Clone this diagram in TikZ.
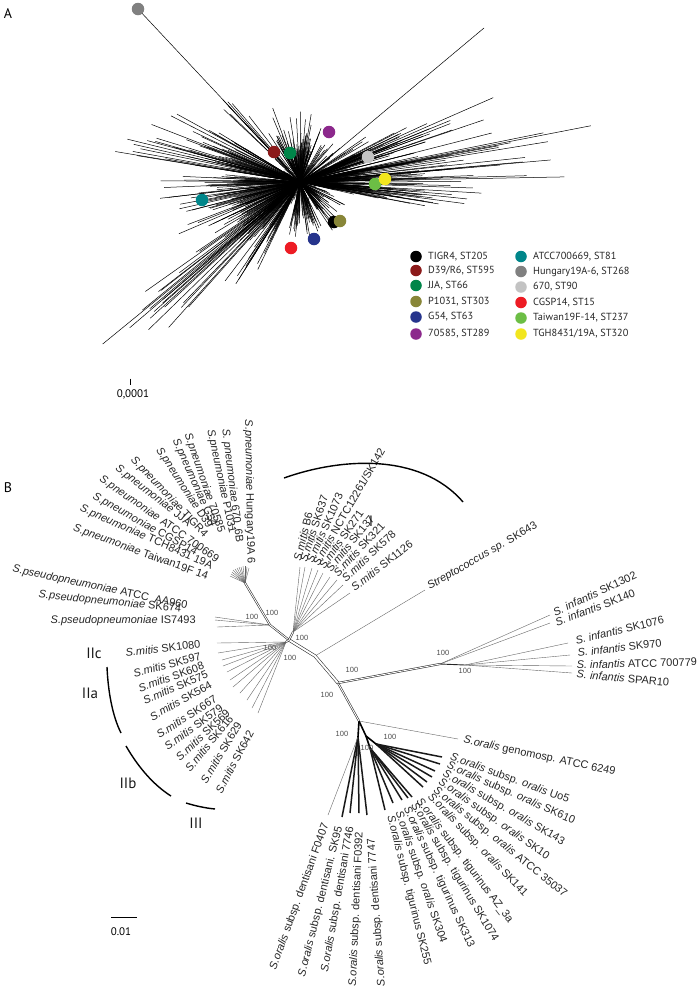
\documentclass[tikz,border=0pt]{standalone}
\usepackage{fontspec}
\setmainfont{Liberation Sans}
\newfontfamily\ptsans{PT Sans}
\usetikzlibrary{calc}
\definecolor{cTIGR}{RGB}{0,0,0}
\definecolor{cDtn}{RGB}{139,26,26}
\definecolor{cJJA}{RGB}{0,133,73}
\definecolor{cPone}{RGB}{136,134,56}
\definecolor{cGfs}{RGB}{38,52,140}
\definecolor{cSvn}{RGB}{140,40,140}
\definecolor{cATCC}{RGB}{0,134,138}
\definecolor{cHun}{RGB}{128,128,128}
\definecolor{cSix}{RGB}{195,195,195}
\definecolor{cCGSP}{RGB}{237,28,36}
\definecolor{cTai}{RGB}{108,190,69}
\definecolor{cTGH}{RGB}{242,230,30}
\newcommand{\afan}[6]{%
  \foreach \k in {1,...,#3}{%
    \pgfmathsetmacro{\fanA}{#1+#2*(rnd-0.5)}%
    \pgfmathsetmacro{\fanR}{#6*rnd}%
    \pgfmathsetmacro{\fanL}{#4+(#5-#4)*rnd*rnd}%
    \pgfmathsetmacro{\fanB}{\fanA+4*(rnd-0.5)}%
    \draw[aline] (CA) ++(\fanA:\fanR) -- ++(\fanB:\fanL);%
  }}
\begin{document}
\begin{tikzpicture}[x=1pt,y=1pt,
  aline/.style={line width=0.5pt, black},
  lab/.style={font=\fontsize{11}{12}\selectfont, text=black!85, inner sep=0.5pt},
  boot/.style={font=\fontsize{7.5}{8}\selectfont, text=black!70, inner sep=0pt},
  leg/.style={font=\ptsans\fontsize{10.3}{11}\selectfont, text=black!85, anchor=west, inner sep=0pt},
  clade/.style={font=\ptsans\fontsize{15}{16}\selectfont, text=black!90, inner sep=0pt},
  panel/.style={font=\ptsans\fontsize{14}{14}\selectfont, inner sep=0pt},
  thinl/.style={line width=0.4pt, black!60},
  thickl/.style={line width=1.5pt, black!90},
  bb/.style={draw=black!85, double=white, double distance=0.9pt, line width=0.55pt},
  bbw/.style={draw=black!85, double=white, double distance=2pt, line width=0.55pt},
  arcl/.style={line width=1.4pt, black},
  dot/.style={circle, inner sep=0pt, minimum size=12.5pt},
  ldot/.style={circle, inner sep=0pt, minimum size=11.5pt}
]
\useasboundingbox (0,0) rectangle (700,-994);
\fill[white] (0,0) rectangle (700,-994);

% ================= Panel A =================
\node[panel] (labA) at (8,-14) {A};
\coordinate (CA) at (300,-182);
\pgfmathsetseed{4321}
\afan{14}{26}{110}{40}{215}{20}
\afan{8}{14}{12}{170}{290}{30}
\afan{-7}{12}{50}{40}{200}{15}
\afan{-42}{30}{32}{25}{75}{8}
\afan{-85}{40}{45}{25}{70}{8}
\afan{-130}{30}{60}{40}{135}{15}
\afan{-138}{12}{18}{150}{245}{30}
\afan{-155}{20}{45}{50}{160}{15}
\afan{185}{20}{50}{50}{150}{15}
\afan{160}{22}{50}{60}{180}{15}
\afan{168}{8}{6}{150}{220}{20}
\afan{95}{55}{80}{25}{80}{5}
\afan{132}{8}{8}{80}{150}{20}
\afan{45}{30}{18}{30}{110}{10}
\afan{0}{360}{90}{15}{45}{0}
\coordinate (tipUR) at (484,-28);
\coordinate (tipHun) at (138,-9);
\draw[aline] (CA) -- (tipHun);
\draw[aline] (CA) -- (tipUR);
\draw[line width=0.6pt] (CA) .. controls (310,-186) and (312,-196) .. (306,-205);

\node[dot, fill=cHun] (dHun) at (tipHun) {};
\node[dot, fill=cDtn] (dDtn) at (274,-152) {};
\node[dot, fill=cJJA] (dJJA) at (290,-153) {};
\node[dot, fill=cSvn] (dSvn) at (329,-132) {};
\node[dot, fill=cSix] (dSix) at (368,-157) {};
\node[dot, fill=cTai] (dTai) at (375,-184) {};
\node[dot, fill=cTGH] (dTGH) at (385,-179) {};
\node[dot, fill=cATCC] (dATCC) at (202,-200) {};
\node[dot, fill=cTIGR] (dTIGR) at (334,-222) {};
\node[dot, fill=cPone] (dPone) at (340,-221) {};
\node[dot, fill=cGfs] (dGfs) at (314,-239) {};
\node[dot, fill=cCGSP] (dCGSP) at (291,-248) {};

% legend
\node[ldot, fill=cTIGR] (l1) at (416,-256.5) {};
\node[leg] (lt1) at (428,-256.5) {TIGR4, ST205};
\node[ldot, fill=cDtn] (l2) at (416,-270.5) {};
\node[leg] (lt2) at (428,-270.5) {D39/R6, ST595};
\node[ldot, fill=cJJA] (l3) at (416,-285.5) {};
\node[leg] (lt3) at (428,-285.5) {JJA, ST66};
\node[ldot, fill=cPone] (l4) at (416,-301.5) {};
\node[leg] (lt4) at (428,-301.5) {P1031, ST303};
\node[ldot, fill=cGfs] (l5) at (416,-317) {};
\node[leg] (lt5) at (428,-317) {G54, ST63};
\node[ldot, fill=cSvn] (l6) at (416,-334) {};
\node[leg] (lt6) at (428,-334) {70585, ST289};
\node[ldot, fill=cATCC] (r1) at (521,-256.5) {};
\node[leg] (rt1) at (533,-256.5) {ATCC700669, ST81};
\node[ldot, fill=cHun] (r2) at (521,-271.5) {};
\node[leg] (rt2) at (533,-271.5) {Hungary19A-6, ST268};
\node[ldot, fill=cSix] (r3) at (521,-287) {};
\node[leg] (rt3) at (533,-287) {670, ST90};
\node[ldot, fill=cCGSP] (r4) at (521,-302.5) {};
\node[leg] (rt4) at (533,-302.5) {CGSP14, ST15};
\node[ldot, fill=cTai] (r5) at (521,-318) {};
\node[leg] (rt5) at (533,-318) {Taiwan19F-14, ST237};
\node[ldot, fill=cTGH] (r6) at (521,-334) {};
\node[leg] (rt6) at (533,-334) {TGH8431/19A, ST320};

% scale A
\coordinate (sa1) at (130.5,-378.5);
\coordinate (sa2) at (130.5,-385);
\draw[line width=0.9pt] (sa1) -- (sa2);
\node[font=\ptsans\fontsize{11}{11}\selectfont, inner sep=0pt] (saT) at (133,-394.5) {0,0001};

% ================= Panel B =================
\node[panel] (labB) at (8,-488) {B};

\coordinate (pA) at (245,-583);
\coordinate (n1) at (270,-625);
\coordinate (n2) at (289,-640);
\coordinate (n3) at (315,-656);
\coordinate (n4) at (338,-683);
\coordinate (n5) at (359,-721);
\coordinate (mt) at (293,-632);
\coordinate (ml) at (286,-642);
\coordinate (ni) at (440,-664);
\coordinate (ni2) at (465,-665);
\coordinate (nd) at (358,-737);
\coordinate (no) at (366,-736);
\coordinate (noo) at (376,-744);
\coordinate (nt) at (370,-748);

% pneumoniae fan
\foreach \i/\x/\y in {1/249/568,2/247/567,3/245/566,4/243/566,5/241/567,6/239/567,7/237/568,8/235/569,9/233/570,10/232/572,11/231/574,12/230/576}{
  \coordinate (pt\i) at (\x,-\y);
  \draw[thinl] (pA) -- (pt\i);
}
% pseudopneumoniae
\foreach \i/\x/\y in {1/215/617,2/215/620,3/217/627}{
  \coordinate (ps\i) at (\x,-\y);
  \draw[thinl] (n1) -- (ps\i);
}
% mitis lower fan
\foreach \i/\x/\y in {1/217/643,2/218/653,3/222/660,4/223/666,5/227/672,6/230/680,7/233/687,8/240/693,9/247/700,10/252/708,11/258/713}{
  \coordinate (ml\i) at (\x,-\y);
  \draw[thinl] (ml) -- (ml\i);
}
% mitis upper fan
\foreach \i/\x/\y in {1/300/567,2/305/567,3/312/568,4/318/570,5/323/573,6/330/577,7/337/580,8/343/585,9/350/593}{
  \coordinate (mu\i) at (\x,-\y);
  \draw[thinl] (mt) -- (mu\i);
}
% SK643
\coordinate (sk643) at (425,-590);
\draw[thinl] (n3) -- (sk643);
% infantis
\foreach \i/\x/\y in {1/550/615,2/550/623}{
  \coordinate (if\i) at (\x,-\y);
  \draw[thinl] (ni) -- (if\i);
}
\foreach \i/\x/\y in {3/568/643,4/570/655,5/572/666,6/572/673}{
  \coordinate (if\i) at (\x,-\y);
  \draw[thinl] (ni2) -- (if\i);
}
\draw[line width=0.9pt, black!85] (ni) -- (ni2);
% oralis
\coordinate (gen) at (458,-739);
\draw[thinl] (n5) -- (gen);
\foreach \i/\x/\y in {1/342/817,2/350/813,3/359/813,4/367/815}{
  \coordinate (dn\i) at (\x,-\y);
  \draw[thickl] (nd) -- (dn\i);
}
\coordinate (dn0) at (328,-815);
\draw[thinl] (nd) -- (dn0);
\foreach \i/\x/\y in {1/442/757,2/440/764,3/435/771,4/432/777,5/427/782,6/423/787}{
  \coordinate (or\i) at (\x,-\y);
  \draw[thickl] (noo) -- (or\i);
}
\foreach \i/\x/\y in {1/412/797,2/408/798,3/402/800,4/393/803,5/385/810}{
  \coordinate (tg\i) at (\x,-\y);
  \draw[thickl] (nt) -- (tg\i);
}
\draw[line width=1.6pt] (n5) -- (nd);
\draw[line width=1.6pt] (n5) -- (no) -- (noo);
\draw[line width=1.6pt] (no) -- (nt);

% backbone
\draw[bb] (pA) -- (n1) -- (n2);
\draw[bbw] (n2) -- (n3) -- (n4);
\draw[bb] (n4) -- (n5);
\draw[bb] (n4) -- (ni);
\draw[bb] (n2) -- (mt);
\draw[bb] (n2) -- (ml);

% bootstrap values
\node[boot] (b1) at (252,-617) {100};
\node[boot] (b2) at (272,-613) {100};
\node[boot] (b3) at (302,-638) {100};
\node[boot] (b4) at (270,-648) {100};
\node[boot] (b5) at (290,-658) {100};
\node[boot] (b6) at (352,-670) {100};
\node[boot] (b7) at (327,-695) {100};
\node[boot] (b8) at (443,-653) {100};
\node[boot] (b9) at (465,-671) {100};
\node[boot] (b10) at (342,-734) {100};
\node[boot] (b11) at (390,-737) {100};
\node[boot] (b12) at (367,-748) {100};

% pneumoniae labels
\node[lab, rotate=-89, anchor=west] (pn1) at (248,-419) {\textit{S.pneumoniae} Hungary19A 6};
\node[lab, rotate=-83, anchor=west] (pn2) at (225,-428) {\textit{S. pneumoniae} 670\_6B};
\node[lab, rotate=-78, anchor=west] (pn3) at (210,-429) {\textit{S.pneumoniae} P1031};
\node[lab, rotate=-71, anchor=west] (pn4) at (187,-433) {\textit{S.pneumoniae} 70585};
\node[lab, rotate=-66, anchor=west] (pn5) at (175,-439) {\textit{S.pneumoniae} G54};
\node[lab, rotate=-57, anchor=west] (pn6) at (158,-448) {\textit{S.pneumoniae} D39};
\node[lab, rotate=-46.5, anchor=west] (pn7) at (132,-458) {\textit{S.pneumoniae} TIGR4};
\node[lab, rotate=-38, anchor=west] (pn8) at (116,-467) {\textit{S.pneumoniae} JJA};
\node[lab, rotate=-35, anchor=west] (pn9) at (100,-478) {\textit{S.pneumoniae} ATCC 700669};
\node[lab, rotate=-29, anchor=west] (pn10) at (93,-496) {\textit{S.pneumoniae} CGSP14};
\node[lab, rotate=-24, anchor=west] (pn11) at (80,-508) {\textit{S.pneumoniae} TCH8431 19A};
\node[lab, rotate=-20, anchor=west] (pn12) at (73,-528) {\textit{S.pneumoniae} Taiwan19F 14};

% pseudopneumoniae labels
\node[lab, rotate=-12, anchor=west] (psl1) at (12,-569) {\textit{S.pseudopneumoniae} ATCC\ \ AA960};
\node[lab, rotate=-5.7, anchor=west] (psl2) at (38,-595) {\textit{S.pseudopneumoniae} SK674};
\node[lab, anchor=west] (psl3) at (50,-621) {\textit{S.pseudopneumoniae} IS7493};

% mitis lower labels
\node[lab, rotate=7, anchor=west] (mll1) at (125,-653) {\textit{S.mitis} SK1080};
\node[lab, rotate=15, anchor=west] (mll2) at (133,-674) {\textit{S.mitis} SK597};
\node[lab, rotate=20, anchor=west] (mll3) at (138,-689) {\textit{S.mitis} SK608};
\node[lab, rotate=23, anchor=west] (mll4) at (143,-701) {\textit{S.mitis} SK575};
\node[lab, rotate=29.5, anchor=west] (mll5) at (150,-718) {\textit{S.mitis} SK564};
\node[lab, rotate=33, anchor=west] (mll6) at (157,-736) {\textit{S.mitis} SK667};
\node[lab, rotate=36, anchor=west] (mll7) at (165,-748) {\textit{S.mitis} SK579};
\node[lab, rotate=43, anchor=west] (mll8) at (177,-759) {\textit{S.mitis} SK569};
\node[lab, rotate=51, anchor=west] (mll9) at (187,-771) {\textit{S.mitis} SK616};
\node[lab, rotate=59, anchor=west] (mll10) at (203,-783) {\textit{S.mitis} SK629};
\node[lab, rotate=62, anchor=west] (mll11) at (218,-793) {\textit{S.mitis} SK642};

% mitis upper labels
\node[lab, rotate=76, anchor=west] (mul1) at (297,-561) {\textit{S.mitis} B6};
\node[lab, rotate=72, anchor=west] (mul2) at (303,-562) {\textit{S.mitis} SK637};
\node[lab, rotate=66, anchor=west] (mul3) at (309,-563) {\textit{S.mitis} SK1073};
\node[lab, rotate=60, anchor=west] (mul4) at (315,-565) {\textit{S.mitis} NCTC12261/SK142};
\node[lab, rotate=55, anchor=west] (mul5) at (321,-568) {\textit{S.mitis} SK271};
\node[lab, rotate=51, anchor=west] (mul6) at (328,-571) {\textit{S.mitis} SK137};
\node[lab, rotate=47, anchor=west] (mul7) at (335,-575) {\textit{S.mitis} SK321};
\node[lab, rotate=43, anchor=west] (mul8) at (343,-580) {\textit{S.mitis} SK578};
\node[lab, rotate=38, anchor=west] (mul9) at (352,-589) {\textit{S.mitis} SK1126};

\node[lab, rotate=30, anchor=west] (skl) at (428,-588) {\textit{Streptococcus sp.} SK643};

% infantis labels
\node[lab, rotate=25, anchor=west] (ifl1) at (553,-613) {\textit{S. infantis} SK1302};
\node[lab, rotate=21, anchor=west] (ifl2) at (555,-623) {\textit{S. infantis} SK140};
\node[lab, rotate=13.5, anchor=west] (ifl3) at (575,-641) {\textit{S. infantis} SK1076};
\node[lab, rotate=7, anchor=west] (ifl4) at (577,-653) {\textit{S. infantis} SK970};
\node[lab, rotate=1.5, anchor=west] (ifl5) at (576,-665) {\textit{S. infantis} ATCC 700779};
\node[lab, rotate=-5, anchor=west] (ifl6) at (576,-674) {\textit{S. infantis} SPAR10};

% oralis labels
\node[lab, rotate=-12, anchor=west] (orl0) at (463,-740) {\textit{S.oralis} genomosp. ATCC 6249};
\node[lab, rotate=-20, anchor=west] (orl1) at (450,-757) {\textit{S.oralis} subsp. \textit{oralis} Uo5};
\node[lab, rotate=-24, anchor=west] (orl2) at (447,-765) {\textit{S.oralis} subsp. \textit{oralis} SK610};
\node[lab, rotate=-30, anchor=west] (orl3) at (443,-773) {\textit{S.oralis} subsp. \textit{oralis} SK143};
\node[lab, rotate=-35, anchor=west] (orl4) at (439,-781) {\textit{S.oralis} subsp. \textit{oralis} SK10};
\node[lab, rotate=-39, anchor=west] (orl5) at (434,-789) {\textit{S.oralis} subsp. \textit{oralis} ATCC 35037};
\node[lab, rotate=-46, anchor=west] (orl6) at (429,-795) {\textit{S.oralis} subsp. \textit{oralis} SK141};
\node[lab, rotate=-53, anchor=west] (tgl1) at (418,-799) {\textit{S.oralis} subsp. tigurinus AZ\_3a};
\node[lab, rotate=-59, anchor=west] (tgl2) at (413,-803) {\textit{S.oralis} subsp. tigurinus SK1074};
\node[lab, rotate=-65, anchor=west] (tgl3) at (406,-807) {\textit{S.oralis} subsp. tigurinus SK313};
\node[lab, rotate=-71, anchor=west] (tgl4) at (398,-811) {\textit{S.oralis} subsp. \textit{oralis} SK304};
\node[lab, rotate=-76, anchor=west] (tgl5) at (390,-815) {\textit{S.oralis} subsp. tigurinus SK255};

% dentisani labels
\node[lab, rotate=70, anchor=west] (dnl0) at (273,-970) {\textit{S.oralis} subsp. dentisani F0407};
\node[lab, rotate=76, anchor=west] (dnl1) at (302,-977) {\textit{S.oralis} subsp. dentisani. SK95};
\node[lab, rotate=80, anchor=west] (dnl2) at (325,-973) {\textit{S.oralis} subsp. dentisani 7746};
\node[lab, rotate=87.5, anchor=west] (dnl3) at (353,-987) {\textit{S.oralis} subsp. dentisani F0392};
\node[lab, rotate=94, anchor=west] (dnl4) at (382,-987) {\textit{S.oralis} subsp. dentisani 7747};

% clade arcs and labels
\draw[arcl] (284,-478) .. controls (340,-458) and (420,-452) .. (463,-502);
\node[clade] (cI) at (371,-521) {I};
\draw[arcl] (107,-667) .. controls (108,-690) and (112,-715) .. (121,-733);
\draw[arcl] (126,-746) .. controls (137,-765) and (152,-784) .. (171,-796);
\draw[arcl] (186,-803) .. controls (196,-806) and (205,-808) .. (215,-809);
\node[clade] (cIIc) at (94,-653) {IIc};
\node[clade] (cIIa) at (90,-693) {IIa};
\node[clade] (cIIb) at (128,-783) {IIb};
\node[clade] (cIII) at (196,-823) {III};

% scale B
\coordinate (sb1) at (111,-917);
\coordinate (sb2) at (137,-917);
\draw[line width=1pt] (sb1) -- (sb2);
\node[font=\ptsans\fontsize{11}{11}\selectfont, inner sep=0pt] (sbT) at (121,-932) {0.01};
\end{tikzpicture}
\end{document}
